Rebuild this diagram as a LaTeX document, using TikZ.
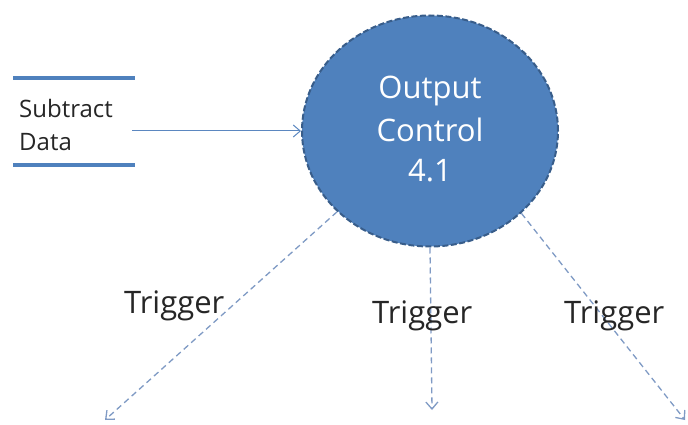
\documentclass[tikz,border=0pt]{standalone}
\usepackage{fontspec}
\setmainfont{Open Sans}
\usetikzlibrary{shapes.geometric,arrows.meta}
\definecolor{procfill}{HTML}{4F81BD}
\definecolor{procedge}{HTML}{385D8A}
\definecolor{flowblue}{HTML}{5B87C0}
\definecolor{trigline}{HTML}{7F9AC4}
\definecolor{txt}{HTML}{262626}
\tikzset{
  process/.style={ellipse, fill=procfill, draw=procedge, line width=2pt, dash pattern=on 6pt off 2.5pt,
    minimum width=256pt, minimum height=231pt, inner sep=0pt},
  proctxt/.style={text=white, font=\fontsize{31}{36}\selectfont, inner sep=0pt, anchor=base},
  storeline/.style={draw=procfill, line width=4pt},
  flow/.style={draw=flowblue, line width=1pt, -{Straight Barb[length=7pt,width=12pt]}},
  trigger/.style={draw=trigline, line width=1.3pt, dash pattern=on 6pt off 4pt,
    -{Straight Barb[length=7pt,width=12pt]}},
  lbl/.style={text=txt, font=\fontsize{31}{36}\selectfont, inner sep=0pt, anchor=base west},
  storetxt/.style={text=txt, font=\fontsize{24}{30}\selectfont, inner sep=0pt, anchor=base west},
}
\begin{document}
\begin{tikzpicture}[x=1pt,y=-1pt]
\useasboundingbox (0,0) rectangle (688,425);
% data store
\coordinate (s1a) at (13,78);
\coordinate (s1b) at (135,78);
\coordinate (s2a) at (13,165);
\coordinate (s2b) at (135,165);
\draw[storeline] (s1a) -- (s1b);
\draw[storeline] (s2a) -- (s2b);
\node[storetxt] (st1) at (19,118) {Subtract};
\node[storetxt] (st2) at (19,150) {Data};
% process
\node[process] (oc) at (430,131) {};
\node[proctxt] (l1) at (430,99) {Output};
\node[proctxt] (l2) at (430,142) {Control};
\node[proctxt] (l3) at (430,182) {4.1};
% flows
\coordinate (fs) at (132,131);
\draw[flow] (fs) -- (oc.west);
\coordinate (t1) at (105,420);
\coordinate (t2) at (432,410);
\coordinate (t3) at (685,420);
\draw[trigger] (oc.221.5) -- (t1);
\draw[trigger] (oc.south) -- (t2);
\draw[trigger] (oc.-42) -- (t3);
\node[lbl] (g1) at (124,313) {Trigger};
\node[lbl] (g2) at (372,323) {Trigger};
\node[lbl] (g3) at (564,323) {Trigger};
\end{tikzpicture}
\end{document}
